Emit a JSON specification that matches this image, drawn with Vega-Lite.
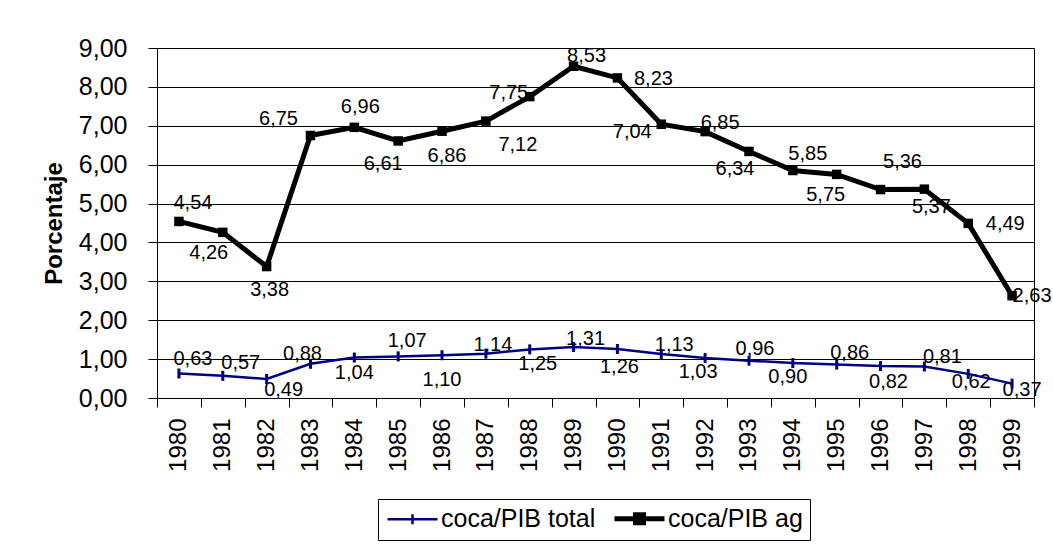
{
  "$schema": "https://vega.github.io/schema/vega-lite/v6.json",
  "width": 877,
  "height": 350,
  "autosize": {"type": "none"},
  "padding": {"left": 157, "top": 48, "right": 19, "bottom": 148},
  "background": "white",
  "config": {
    "locale": {"number": {"decimal": ",", "thousands": ".", "grouping": [3], "currency": ["", " €"]}},
    "font": "Liberation Sans",
    "view": {"stroke": "#000000", "strokeWidth": 1}
  },
  "data": {
    "values": [
      {"year": 1980, "series": "coca/PIB total", "value": 0.63},
      {"year": 1981, "series": "coca/PIB total", "value": 0.57},
      {"year": 1982, "series": "coca/PIB total", "value": 0.49},
      {"year": 1983, "series": "coca/PIB total", "value": 0.88},
      {"year": 1984, "series": "coca/PIB total", "value": 1.04},
      {"year": 1985, "series": "coca/PIB total", "value": 1.07},
      {"year": 1986, "series": "coca/PIB total", "value": 1.10},
      {"year": 1987, "series": "coca/PIB total", "value": 1.14},
      {"year": 1988, "series": "coca/PIB total", "value": 1.25},
      {"year": 1989, "series": "coca/PIB total", "value": 1.31},
      {"year": 1990, "series": "coca/PIB total", "value": 1.26},
      {"year": 1991, "series": "coca/PIB total", "value": 1.13},
      {"year": 1992, "series": "coca/PIB total", "value": 1.03},
      {"year": 1993, "series": "coca/PIB total", "value": 0.96},
      {"year": 1994, "series": "coca/PIB total", "value": 0.90},
      {"year": 1995, "series": "coca/PIB total", "value": 0.86},
      {"year": 1996, "series": "coca/PIB total", "value": 0.82},
      {"year": 1997, "series": "coca/PIB total", "value": 0.81},
      {"year": 1998, "series": "coca/PIB total", "value": 0.62},
      {"year": 1999, "series": "coca/PIB total", "value": 0.37},
      {"year": 1980, "series": "coca/PIB ag", "value": 4.54},
      {"year": 1981, "series": "coca/PIB ag", "value": 4.26},
      {"year": 1982, "series": "coca/PIB ag", "value": 3.38},
      {"year": 1983, "series": "coca/PIB ag", "value": 6.75},
      {"year": 1984, "series": "coca/PIB ag", "value": 6.96},
      {"year": 1985, "series": "coca/PIB ag", "value": 6.61},
      {"year": 1986, "series": "coca/PIB ag", "value": 6.86},
      {"year": 1987, "series": "coca/PIB ag", "value": 7.12},
      {"year": 1988, "series": "coca/PIB ag", "value": 7.75},
      {"year": 1989, "series": "coca/PIB ag", "value": 8.53},
      {"year": 1990, "series": "coca/PIB ag", "value": 8.23},
      {"year": 1991, "series": "coca/PIB ag", "value": 7.04},
      {"year": 1992, "series": "coca/PIB ag", "value": 6.85},
      {"year": 1993, "series": "coca/PIB ag", "value": 6.34},
      {"year": 1994, "series": "coca/PIB ag", "value": 5.85},
      {"year": 1995, "series": "coca/PIB ag", "value": 5.75},
      {"year": 1996, "series": "coca/PIB ag", "value": 5.36},
      {"year": 1997, "series": "coca/PIB ag", "value": 5.37},
      {"year": 1998, "series": "coca/PIB ag", "value": 4.49},
      {"year": 1999, "series": "coca/PIB ag", "value": 2.63}
    ]
  },
  "encoding": {
    "x": {
      "field": "year",
      "type": "ordinal",
      "scale": {"type": "band", "paddingInner": 0, "paddingOuter": 0},
      "axis": {
        "title": null,
        "labelAngle": -90,
        "labelFontSize": 24,
        "labelColor": "#000000",
        "labelPadding": 11,
        "tickSize": 9,
        "tickBand": "extent",
        "tickColor": "#000000",
        "domainColor": "#000000",
        "grid": false
      }
    },
    "y": {
      "field": "value",
      "type": "quantitative",
      "scale": {"domain": [0, 9], "nice": false, "zero": true},
      "axis": {
        "title": "Porcentaje",
        "titleFontSize": 24,
        "titleFontWeight": "bold",
        "titleColor": "#000000",
        "titlePadding": 12,
        "values": [0, 1, 2, 3, 4, 5, 6, 7, 8, 9],
        "format": ".2f",
        "labelFontSize": 25,
        "labelColor": "#000000",
        "labelPadding": 21,
        "labelFlush": false,
        "labelOverlap": false,
        "tickSize": 9,
        "tickColor": "#000000",
        "domainColor": "#000000",
        "grid": true,
        "gridColor": "#000000",
        "gridOpacity": 1
      }
    }
  },
  "layer": [
    {
      "transform": [{"filter": "datum.series === 'coca/PIB ag'"}],
      "mark": {
        "type": "text",
        "fontSize": 20,
        "color": "#000000",
        "align": "center",
        "baseline": "middle",
        "dx": {"expr": "[14,-14,3,-32,6,-15,5,32,-21,13,36,-29,15,-14,15,-11,22,7,37,20][datum.year-1980]"},
        "dy": {"expr": "[-18,21,23,-17,-20,23,25,24,-4,-10,1,8,-9,18,-17,21,-28,18,1,0][datum.year-1980]"}
      },
      "encoding": {"text": {"field": "value", "type": "quantitative", "format": ".2f"}}
    },
    {
      "transform": [{"filter": "datum.series === 'coca/PIB total'"}],
      "mark": {
        "type": "text",
        "fontSize": 20,
        "color": "#000000",
        "align": "center",
        "baseline": "middle",
        "dx": {"expr": "[14,18,17,-8,0,9,0,7,8,12,2,13,-7,6,-5,13,8,18,3,10][datum.year-1980]"},
        "dy": {"expr": "[-15,-13,11,-10,15,-15,25,-9,15,-8,18,-9,14,-12,14,-12,16,-10,8,6][datum.year-1980]"}
      },
      "encoding": {"text": {"field": "value", "type": "quantitative", "format": ".2f"}}
    },
    {
      "mark": {"type": "line"},
      "encoding": {
        "color": {
          "field": "series",
          "type": "nominal",
          "sort": ["coca/PIB total", "coca/PIB ag"],
          "scale": {"domain": ["coca/PIB total", "coca/PIB ag"], "range": ["#000080", "#000000"]},
          "legend": {
            "orient": "none",
            "legendX": 221,
            "legendY": 451,
            "direction": "horizontal",
            "title": null,
            "labelFontSize": 25,
            "labelColor": "#000000",
            "strokeColor": "#000000",
            "padding": 7,
            "symbolSize": 400,
            "symbolStrokeWidth": 3,
            "symbolOffset": 15,
            "labelOffset": 16,
            "columnPadding": 8,
            "encode": {
              "symbols": {
                "update": {
                  "shape": {"signal": "datum.value === 'coca/PIB ag' ? 'M-2.5,0H2.5M-0.4,-0.4H0.4V0.4H-0.4Z' : 'M-2.5,0H2.5M0,-0.5V0.5'"},
                  "strokeWidth": {"signal": "datum.value === 'coca/PIB ag' ? 5 : 2.5"},
                  "fill": {"signal": "datum.value === 'coca/PIB ag' ? '#000000' : 'transparent'"}
                }
              }
            }
          }
        },
        "strokeWidth": {
          "field": "series",
          "type": "nominal",
          "scale": {"domain": ["coca/PIB total", "coca/PIB ag"], "range": [2.5, 5]},
          "legend": null
        }
      }
    },
    {
      "transform": [{"filter": "datum.series === 'coca/PIB ag'"}],
      "mark": {"type": "point", "shape": "square", "filled": true, "size": 90, "color": "#000000", "opacity": 1}
    },
    {
      "transform": [{"filter": "datum.series === 'coca/PIB total'"}],
      "mark": {"type": "point", "shape": "M0,-1V1", "filled": false, "size": 100, "strokeWidth": 3, "color": "#000080", "opacity": 1}
    }
  ]
}
